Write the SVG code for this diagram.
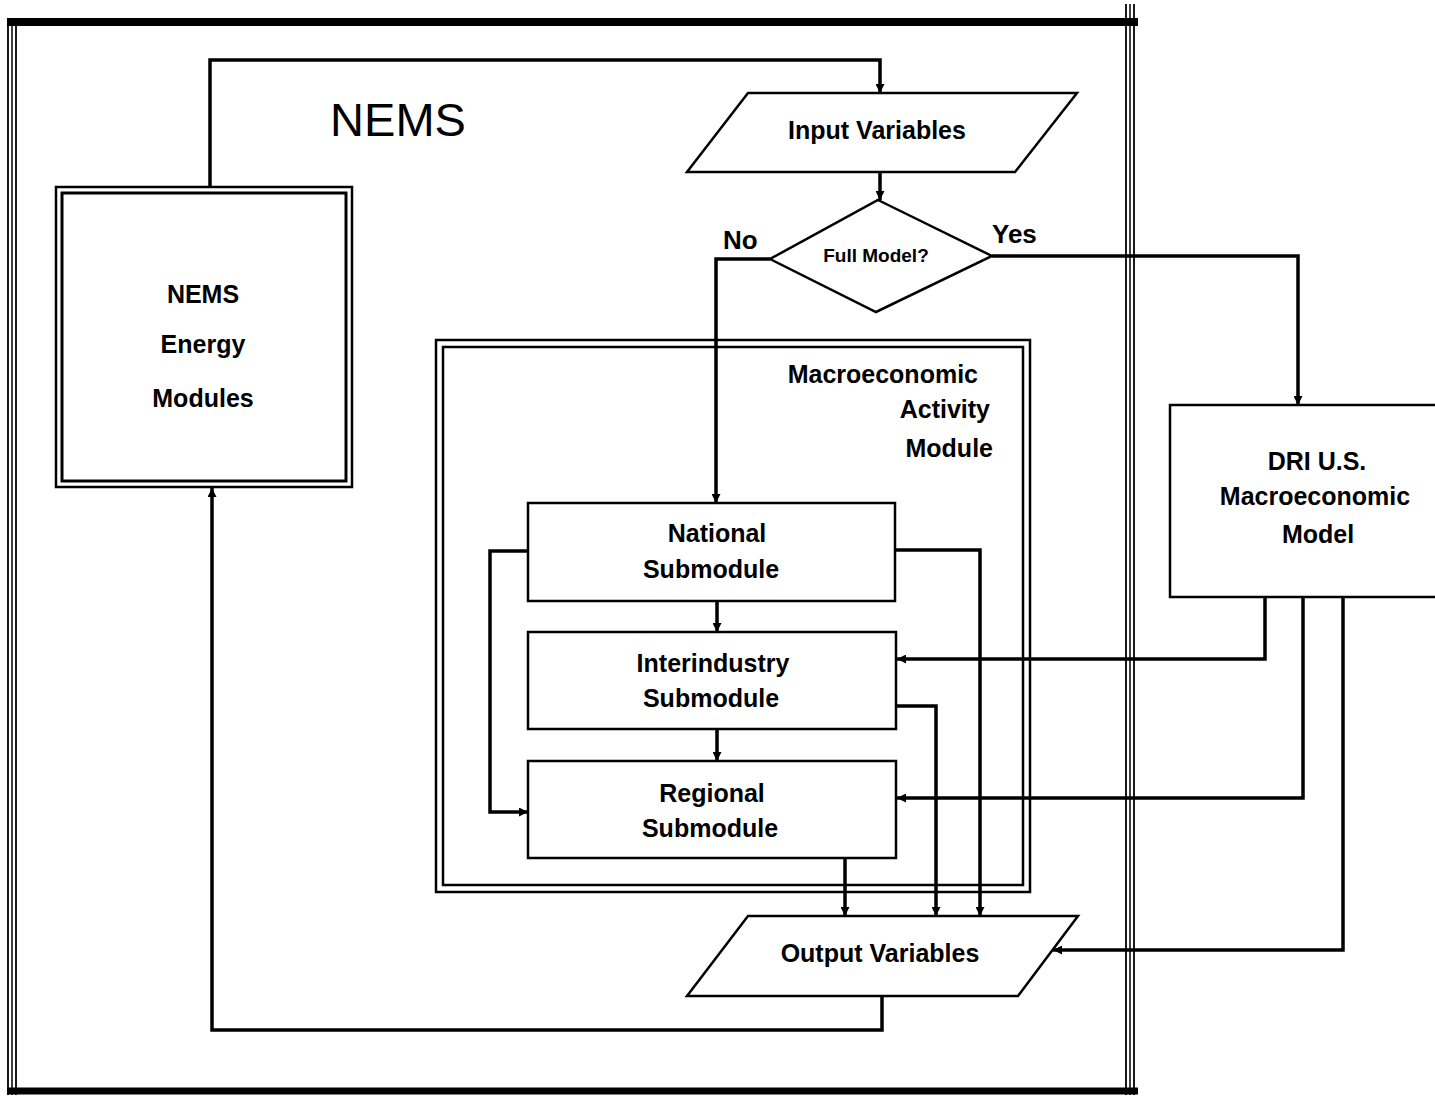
<svg xmlns="http://www.w3.org/2000/svg" width="1435" height="1100" viewBox="0 0 1435 1100">
<defs>
<style>
.lbl{font-family:"Liberation Sans",Arial,sans-serif;font-weight:bold;font-size:25px;fill:#000;text-anchor:middle}
.box{fill:#fff;stroke:#000;stroke-width:2.5}
.con{fill:none;stroke:#000;stroke-width:3.5;stroke-linejoin:miter}
.frame{fill:none;stroke:#000}
</style>
<marker id="arr" viewBox="0 0 10 10" refX="10" refY="5" markerWidth="9" markerHeight="9" markerUnits="userSpaceOnUse" orient="auto">
<path d="M0,0 L10,5 L0,10 Z" fill="#000"/>
</marker>
</defs>
<rect width="1435" height="1100" fill="#fff"/>

<g id="nems-frame">
<line x1="7" y1="22" x2="1138" y2="22" stroke="#000" stroke-width="8"/>
<line x1="7" y1="1091" x2="1138" y2="1091" stroke="#000" stroke-width="7"/>
<line x1="8" y1="18" x2="8" y2="1095" stroke="#000" stroke-width="1.8"/>
<line x1="12" y1="18" x2="12" y2="1095" stroke="#000" stroke-width="1.5"/>
<line x1="16" y1="18" x2="16" y2="1095" stroke="#000" stroke-width="1.8"/>
<line x1="1126" y1="4" x2="1126" y2="1095" stroke="#000" stroke-width="1.8"/>
<line x1="1130" y1="4" x2="1130" y2="1095" stroke="#000" stroke-width="1.5"/>
<line x1="1134" y1="4" x2="1134" y2="1095" stroke="#000" stroke-width="1.8"/>
<text x="398" y="136" style="font-family:'Liberation Sans',Arial,sans-serif;font-size:47px;text-anchor:middle">NEMS</text>
</g>

<g id="macro-module">
<rect class="frame" x="436" y="340" width="594" height="552" stroke-width="2.5"/>
<rect class="frame" x="443" y="347" width="580" height="538" stroke-width="2.5"/>
<text class="lbl" x="978" y="383" style="text-anchor:end">Macroeconomic</text>
<text class="lbl" x="990" y="418" style="text-anchor:end">Activity</text>
<text class="lbl" x="993" y="457" style="text-anchor:end">Module</text>
</g>

<g id="connectors">
<path class="con" d="M210,187 V60 H880 V93" marker-end="url(#arr)"/>
<path class="con" d="M880,172 V200" marker-end="url(#arr)"/>
<path class="con" d="M770,259 H716 V503" marker-end="url(#arr)"/>
<path class="con" d="M992,256 H1298 V405" marker-end="url(#arr)"/>
<path class="con" d="M717,601 V632" marker-end="url(#arr)"/>
<path class="con" d="M717,729 V761" marker-end="url(#arr)"/>
<path class="con" d="M528,551 H490 V812 H528" marker-end="url(#arr)"/>
<path class="con" d="M895,550 H980 V916" marker-end="url(#arr)"/>
<path class="con" d="M896,706 H936 V916" marker-end="url(#arr)"/>
<path class="con" d="M845,858 V916" marker-end="url(#arr)"/>
<path class="con" d="M1265,597 V659 H897" marker-end="url(#arr)"/>
<path class="con" d="M1303,597 V798 H897" marker-end="url(#arr)"/>
<path class="con" d="M1343,597 V950 H1053" marker-end="url(#arr)"/>
<path class="con" d="M882,996 V1030 H212 V488" marker-end="url(#arr)"/>
</g>

<g id="energy-modules">
<rect class="box" x="56" y="187" width="296" height="300" stroke-width="3"/>
<rect class="frame" x="62" y="193" width="284" height="288" stroke-width="3"/>
<text class="lbl" x="203" y="303">NEMS</text>
<text class="lbl" x="203" y="353">Energy</text>
<text class="lbl" x="203" y="407">Modules</text>
</g>

<g id="input-variables">
<polygon class="box" points="748,93 1077,93 1015,172 687,172"/>
<text class="lbl" x="877" y="139">Input Variables</text>
</g>

<g id="full-model">
<polygon class="box" points="878,200 992,256 876,312 770,259"/>
<text class="lbl" x="876" y="262" style="font-size:19px">Full Model?</text>
<text class="lbl" x="723" y="249" style="text-anchor:start;font-size:26px">No</text>
<text class="lbl" x="992" y="243" style="text-anchor:start;font-size:26px">Yes</text>
</g>

<g id="national">
<rect class="box" x="528" y="503" width="367" height="98"/>
<text class="lbl" x="717" y="542">National</text>
<text class="lbl" x="711" y="578">Submodule</text>
</g>

<g id="interindustry">
<rect class="box" x="528" y="632" width="368" height="97"/>
<text class="lbl" x="713" y="672">Interindustry</text>
<text class="lbl" x="711" y="707">Submodule</text>
</g>

<g id="regional">
<rect class="box" x="528" y="761" width="368" height="97"/>
<text class="lbl" x="712" y="802">Regional</text>
<text class="lbl" x="710" y="837">Submodule</text>
</g>

<g id="output-variables">
<polygon class="box" points="748,916 1078,916 1018,996 687,996"/>
<text class="lbl" x="880" y="962">Output Variables</text>
</g>

<g id="dri-model">
<rect class="box" x="1170" y="405" width="300" height="192"/>
<text class="lbl" x="1317" y="470">DRI U.S.</text>
<text class="lbl" x="1315" y="505">Macroeconomic</text>
<text class="lbl" x="1318" y="543">Model</text>
</g>
</svg>
